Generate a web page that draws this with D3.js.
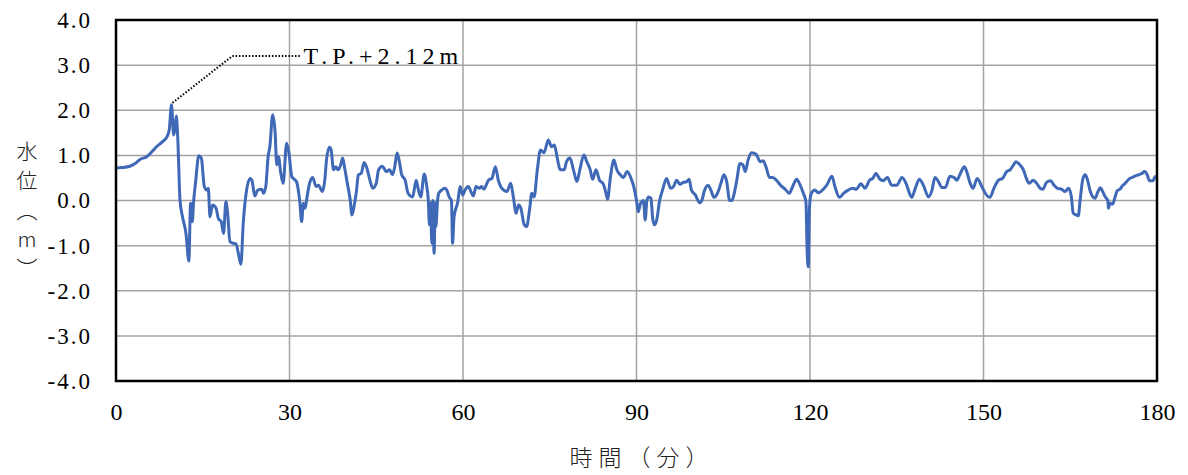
<!DOCTYPE html>
<html><head><meta charset="utf-8">
<script src="https://cdn.jsdelivr.net/npm/d3@7"></script>
<style>body{margin:0;background:#fff}svg{display:block}</style>
</head><body>
<svg id="chart" width="1188" height="475"></svg>
<script>
const times = [0,1,2.4,3.3,4.15,5.3,6.2,7.0,8.0,8.8,9.2,9.6,9.97,10.2,10.43,10.67,11.07,11.5,12.1,12.6,12.9,13.2,13.4,13.8,14.3,14.75,15.27,15.7,15.96,16.25,16.7,17.3,17.7,18.2,18.6,19.0,19.3,19.7,20.3,20.75,21.15,21.6,22.0,22.5,23.2,23.5,24.0,24.5,25.2,25.5,25.9,26.3,26.6,27.1,27.5,27.8,28.1,28.5,28.9,29.5,29.9,30.4,30.65,31.2,31.8,32.1,32.4,32.7,33.0,33.4,34.0,34.6,35.0,35.7,36.1,36.4,36.9,37.2,37.6,38.0,38.4,38.85,39.2,39.5,40.0,40.5,40.8,41.2,41.6,41.9,42.4,42.9,43.4,43.9,44.4,45.0,45.4,46.1,46.7,47.3,47.8,48.2,48.6,49.0,49.4,50.0,50.5,51.3,51.9,52.3,52.7,53.3,53.7,54.0,54.2,54.4,54.6,54.8,55.0,55.2,55.3,55.6,55.8,56.3,56.8,57.2,57.6,58.0,58.2,58.45,59.1,59.5,59.95,60.35,60.9,61.8,62.25,62.8,63.2,63.6,64.4,65.0,65.6,66.1,66.7,67.6,68.25,68.7,69.2,69.6,70.0,70.6,71.0,71.5,71.9,72.3,72.85,73.4,74.0,74.75,75.3,75.8,76.3,76.8,77.5,77.9,78.5,79.1,79.7,80.2,80.9,81.4,82.0,82.4,83.0,83.6,84.2,84.6,85.0,85.5,86.1,86.6,87.2,87.7,88.4,89.0,89.6,90.0,90.3,90.7,91.2,91.5,91.8,92.1,92.5,92.8,93.1,93.5,94.0,94.5,95.2,95.9,96.4,96.95,97.5,98.1,98.7,99.1,99.5,100.2,100.9,101.3,101.7,102.4,102.8,103.4,104.0,104.6,105.1,105.6,106.1,106.5,106.9,107.3,107.9,108.4,108.8,109.3,109.9,110.7,111.4,111.9,112.4,113.0,113.55,114.25,114.9,115.7,116.4,117.1,117.7,118.3,118.85,119.3,119.5,119.7,119.9,120.1,120.45,120.85,121.45,122.3,122.9,123.8,124.3,125.1,125.8,126.6,127.4,128.0,128.8,129.5,130.3,130.85,131.4,132.1,132.7,133.4,134.1,135.0,135.9,136.6,137.2,137.6,138.2,138.9,139.6,140.5,141.1,141.6,142.2,142.8,143.4,144.2,144.9,145.4,146.0,146.7,147.1,147.7,148.2,148.9,149.7,150.3,151.1,151.8,152.6,153.3,154.0,154.6,155.2,155.6,156.3,156.9,157.35,157.9,158.6,159.2,159.8,160.25,160.9,161.6,162.2,162.8,163.5,164.1,164.7,165.2,165.5,166.0,166.4,166.7,167.2,167.6,168.0,168.4,168.9,169.3,169.8,170.2,170.6,171.1,171.5,171.6,171.9,172.35,172.75,173.15,173.6,174.1,174.5,175.1,175.7,176.2,176.8,177.4,177.85,178.3,178.7,179.3,179.7,180];
const levels = [0.72,0.73,0.76,0.82,0.91,0.97,1.08,1.19,1.30,1.41,1.56,2.12,1.45,1.60,1.87,1.41,0.0,-0.36,-0.73,-1.34,-0.06,-0.47,-0.06,0.45,0.99,0.94,0.31,0.23,0.27,-0.36,-0.10,-0.17,-0.40,-0.47,-0.73,-0.03,-0.28,-0.91,-0.95,-0.96,-1.17,-1.41,-0.51,0.16,0.49,0.45,0.10,0.23,0.25,0.16,0.31,0.97,1.19,1.90,1.53,0.79,0.97,0.60,0.38,1.27,1.05,0.53,0.49,0.42,-0.06,-0.47,-0.06,-0.17,0.05,0.34,0.51,0.31,0.34,0.20,0.45,0.90,1.18,1.12,0.68,0.75,0.68,0.79,0.94,0.75,0.38,0.01,-0.32,-0.10,0.23,0.57,0.60,0.84,0.71,0.45,0.27,0.38,0.68,0.76,0.64,0.68,0.57,0.75,1.05,0.86,0.57,0.45,0.16,0.08,0.45,0.23,0.08,0.59,0.34,0.0,-0.54,-0.05,-0.95,0.0,-1.17,-0.05,-0.58,0.0,0.16,0.23,0.27,0.23,0.08,0.0,-0.95,-0.36,-0.03,0.31,0.12,0.23,0.31,0.10,0.31,0.27,0.31,0.25,0.45,0.49,0.75,0.45,0.27,0.20,0.38,0.08,-0.28,-0.10,-0.17,-0.54,-0.58,-0.21,0.16,0.08,0.68,1.12,1.06,1.34,1.19,1.23,0.94,0.68,0.68,0.86,0.94,0.68,0.42,0.68,1.01,0.86,0.68,0.47,0.68,0.45,0.38,0.23,0.03,0.53,0.90,0.68,0.57,0.51,0.64,0.51,0.27,0.0,-0.25,-0.06,0.0,-0.43,0.0,0.08,0.05,-0.40,-0.54,-0.43,0.0,0.23,0.49,0.27,0.31,0.45,0.36,0.40,0.42,0.47,0.23,0.12,-0.05,0.0,0.20,0.34,0.25,0.07,0.16,0.38,0.57,0.42,0.0,0.0,0.16,0.42,0.82,0.79,0.64,0.90,1.06,1.02,0.86,0.88,0.74,0.51,0.51,0.44,0.34,0.25,0.16,0.34,0.47,0.34,0.16,-0.03,-1.10,-1.47,-0.21,0.10,0.20,0.23,0.17,0.25,0.34,0.54,0.31,0.07,0.16,0.23,0.27,0.25,0.37,0.27,0.45,0.49,0.60,0.47,0.44,0.51,0.34,0.34,0.51,0.38,0.16,0.07,0.27,0.47,0.34,0.08,0.23,0.51,0.42,0.29,0.29,0.54,0.51,0.45,0.60,0.75,0.64,0.38,0.27,0.49,0.31,0.16,0.07,0.27,0.45,0.49,0.64,0.68,0.79,0.86,0.79,0.68,0.51,0.38,0.45,0.38,0.27,0.25,0.40,0.44,0.34,0.27,0.25,0.20,0.27,0.08,-0.28,-0.32,-0.34,0.0,0.49,0.57,0.45,0.23,0.08,0.05,0.20,0.28,0.20,0.07,0.0,-0.17,-0.06,-0.08,0.08,0.22,0.25,0.34,0.38,0.47,0.51,0.54,0.57,0.60,0.64,0.57,0.44,0.44,0.53,0.50];
const xTicks = [0,30,60,90,120,150,180];
const yTicks = [-4,-3,-2,-1,0,1,2,3,4];
const peakLabel = "T.P.+2.12m";
const yTitle = ["水","位","︵","m","︶"];
const xTitle = "時間（分）";

const svg = d3.select("#chart");
const L = 116, R = 1157, T = 20, B = 381;
const x = d3.scaleLinear().domain([0,180]).range([L,R]);
const y = d3.scaleLinear().domain([-4,4]).range([B,T]);

// grid
svg.append("g").selectAll("line").data(yTicks.filter(d=>d>-4&&d<4)).join("line")
  .attr("x1",L).attr("x2",R).attr("y1",d=>y(d)).attr("y2",d=>y(d))
  .attr("stroke","#a3a3a3").attr("stroke-width",1.5);
svg.append("g").selectAll("line").data(xTicks.filter(d=>d>0&&d<180)).join("line")
  .attr("y1",T).attr("y2",B).attr("x1",d=>x(d)).attr("x2",d=>x(d))
  .attr("stroke","#a3a3a3").attr("stroke-width",1.5);

// line
const data = times.map((t,i)=>[t,levels[i]]);
svg.append("path").datum(data)
  .attr("d", d3.line().curve(d3.curveMonotoneX).x(d=>x(d[0])).y(d=>y(d[1])))
  .attr("fill","none").attr("stroke","#3f68b6").attr("stroke-width",3)
  .attr("stroke-linejoin","round");

// border
svg.append("rect").attr("x",L).attr("y",T).attr("width",R-L).attr("height",B-T)
  .attr("fill","none").attr("stroke","#000").attr("stroke-width",2.5);

// axes labels
const yAxis = d3.axisLeft(y).tickValues(yTicks).tickFormat(d=>d.toFixed(1)).tickSize(0).tickPadding(24);
const gy = svg.append("g").attr("transform",`translate(${L},0)`).call(yAxis);
gy.select(".domain").remove();
gy.selectAll("text").attr("font-family","'Liberation Serif', serif").attr("font-size",23)
  .attr("letter-spacing","2px").attr("fill","#000");

const xAxis = d3.axisBottom(x).tickValues(xTicks).tickSize(0).tickPadding(22);
const gx = svg.append("g").attr("transform",`translate(0,${B})`).call(xAxis);
gx.select(".domain").remove();
gx.selectAll("text").attr("font-family","'Liberation Serif', serif").attr("font-size",24).attr("fill","#000");

// titles
svg.append("g").selectAll("text").data(yTitle).join("text")
  .attr("x",27).attr("y",(d,i)=>[150,179,209,238,267][i]).attr("text-anchor","middle")
  .attr("dominant-baseline","central")
  .attr("font-family","'Noto Sans CJK JP', sans-serif").attr("font-size",21).attr("font-weight",300).attr("fill","#222")
  .text(d=>d);
svg.append("text").attr("x",642).attr("y",466).attr("text-anchor","middle")
  .attr("font-family","'Noto Sans CJK JP', sans-serif").attr("font-size",23).attr("font-weight",300)
  .attr("letter-spacing","6px").attr("fill","#222").text(xTitle);

// annotation
const pi = levels.indexOf(d3.max(levels));
const px = x(times[pi]), py = y(levels[pi]);
svg.append("path").attr("d",`M${px+1},${py-2}L${x(20.1)},${y(3.2)}L${x(32)},${y(3.2)}`)
  .attr("fill","none").attr("stroke","#000").attr("stroke-width",2).attr("stroke-dasharray","1.5,1.8");
svg.append("text").attr("x",x(32.4)).attr("y",y(3.2)+8).attr("font-family","'Liberation Serif', serif")
  .attr("font-size",24).attr("letter-spacing","5px").attr("fill","#000").text(peakLabel);
</script>
</body></html>
